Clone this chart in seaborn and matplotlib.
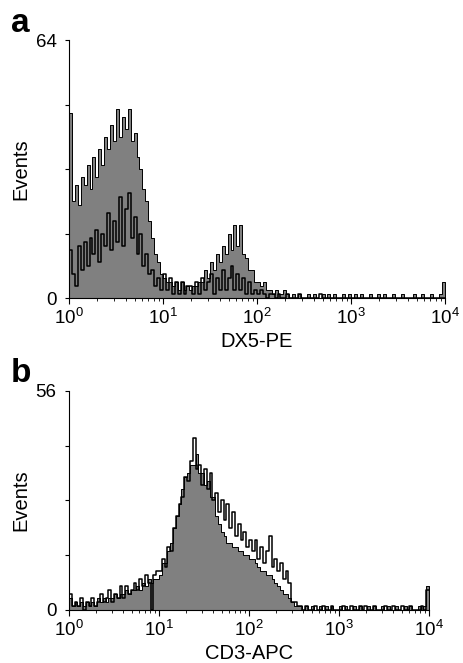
import numpy as np
import pandas as pd
import seaborn as sns
import matplotlib.pyplot as plt

# 128 log channels, 32 per decade, 10^0 .. 10^4
channels = 10 ** ((np.arange(128) + 0.5) / 32)

# panel a: DX5-PE (grey = stained, black line = control)
dx5_stained = [46, 24, 28, 23, 30, 28, 33, 27, 35, 30, 37, 33, 40, 37, 43, 39,
               47, 40, 45, 42, 47, 39, 41, 35, 32, 27, 24, 19, 15, 11, 9, 6,
               5, 4, 4, 3, 4, 2, 4, 2, 3, 2, 3, 3, 4, 4, 7, 5,
               9, 7, 11, 9, 13, 11, 16, 12, 18, 13, 18, 11, 10, 7, 7, 4,
               4, 3, 4, 2, 2, 1, 2, 1, 1, 2, 1, 0, 1, 0, 1, 0,
               0, 1, 0, 1, 0, 0, 1, 0, 1, 0, 1, 0, 0, 1, 0, 1,
               0, 1, 0, 1, 0, 0, 1, 0, 0, 1, 0, 1, 0, 0, 1, 0,
               0, 1, 0, 0, 0, 1, 0, 0, 1, 0, 0, 1, 0, 0, 1, 4]
dx5_control = [12, 6, 3, 13, 7, 14, 8, 15, 11, 17, 9, 16, 13, 21, 12, 19,
               14, 25, 13, 22, 26, 15, 20, 11, 16, 8, 11, 6, 7, 3, 5, 2,
               6, 2, 5, 1, 4, 1, 4, 1, 3, 3, 1, 4, 1, 5, 2, 4,
               6, 1, 5, 2, 7, 2, 5, 8, 2, 6, 2, 5, 1, 4, 1, 2,
               1, 2, 1, 0, 1, 1, 0, 1, 0, 0, 1, 0, 0, 0, 1, 0,
               0, 0, 0, 0, 0, 1, 0, 0, 0, 0, 0, 0, 0, 0, 0, 0,
               0, 0, 0, 0, 0, 0, 0, 0, 0, 0, 0, 0, 0, 0, 0, 0,
               0, 0, 0, 0, 0, 0, 0, 0, 0, 0, 0, 0, 0, 0, 0, 0]

# panel b: CD3-APC
cd3_stained = [3, 1, 2, 1, 2, 1, 2, 1, 2, 1, 3, 2, 3, 2, 3, 3,
               4, 3, 4, 4, 5, 4, 5, 5, 6, 5, 7, 6, 8, 7, 8, 8,
               9, 12, 12, 15, 17, 21, 24, 27, 31, 34, 35, 37, 37, 40, 35, 35,
               32, 33, 29, 29, 24, 22, 20, 19, 17, 17, 16, 16, 15, 15, 14, 14,
               13, 13, 12, 11, 10, 10, 9, 9, 8, 7, 6, 5, 4, 4, 3, 2,
               1, 1, 1, 0, 1, 0, 1, 0, 0, 1, 0, 1, 0, 1, 0, 0,
               1, 0, 1, 0, 0, 1, 0, 1, 0, 0, 1, 0, 1, 0, 0, 1,
               0, 1, 0, 0, 1, 0, 0, 1, 0, 1, 0, 0, 1, 0, 1, 6]
cd3_control = [4, 1, 2, 1, 3, 0, 2, 1, 3, 1, 2, 4, 2, 3, 5, 2,
               4, 3, 6, 3, 6, 4, 5, 7, 5, 8, 6, 9, 7, 0, 9, 10,
               10, 13, 11, 16, 15, 21, 24, 27, 29, 34, 33, 38, 44, 36, 37, 32,
               36, 31, 35, 28, 30, 25, 28, 23, 27, 21, 25, 19, 22, 18, 20, 16,
               18, 15, 18, 13, 16, 12, 15, 19, 11, 13, 10, 12, 8, 10, 7, 2,
               2, 1, 1, 0, 1, 0, 0, 1, 0, 0, 1, 0, 0, 1, 0, 0,
               0, 1, 0, 0, 1, 0, 0, 1, 0, 1, 0, 0, 1, 0, 0, 0,
               1, 0, 0, 1, 0, 0, 1, 0, 0, 1, 0, 0, 0, 1, 0, 5]

sns.set_style("ticks")
plt.rcParams['font.family'] = ['Liberation Sans', 'DejaVu Sans']
plt.rcParams['mathtext.fontset'] = 'custom'
plt.rcParams['mathtext.rm'] = 'Liberation Sans'
plt.rcParams['mathtext.it'] = 'Liberation Sans:italic'
plt.rcParams['mathtext.bf'] = 'Liberation Sans:bold'
plt.rcParams['text.color'] = 'black'
plt.rcParams['axes.labelcolor'] = 'black'
plt.rcParams['xtick.color'] = 'black'
plt.rcParams['ytick.color'] = 'black'

fig = plt.figure(figsize=(4.63, 6.63), dpi=100)
ax1 = fig.add_axes([0.149, 0.5505, 0.812, 0.389])
ax2 = fig.add_axes([0.149, 0.080, 0.7776, 0.3303])


def panel(ax, filled, line, ymax, xlabel):
    df = pd.DataFrame({"channel": channels, "filled": filled, "line": line})
    sns.histplot(data=df, x="channel", weights="filled", log_scale=True,
                 binwidth=1 / 32, binrange=(0, 4), element="step", fill=True,
                 color="#808080", edgecolor="black", linewidth=0.7, alpha=1, ax=ax)
    sns.histplot(data=df, x="channel", weights="line", log_scale=True,
                 binwidth=1 / 32, binrange=(0, 4), element="step", fill=False,
                 color="black", linewidth=1.1, ax=ax)
    ax.set_xlim(1, 1e4)
    ax.set_ylim(0, ymax)
    ax.set_xticks([1, 10, 100, 1000, 10000])
    ax.set_yticks([0, ymax])
    ax.set_yticks([ymax / 4, ymax / 2, 3 * ymax / 4], minor=True)
    ax.tick_params(axis="both", which="major", labelsize=13.5, width=0.8)
    ax.tick_params(axis="x", which="major", length=4, pad=3)
    ax.tick_params(axis="x", which="minor", length=2, width=0.6)
    ax.tick_params(axis="y", which="major", length=3, pad=6)
    ax.tick_params(axis="y", which="minor", length=3, width=0.8)
    ax.set_xlabel(xlabel, fontsize=14.5, labelpad=3)
    ax.set_ylabel("Events", fontsize=14.5, labelpad=4)
    sns.despine(ax=ax)
    for s in ["left", "bottom"]:
        ax.spines[s].set_linewidth(0.8)
        ax.spines[s].set_color("black")


panel(ax1, dx5_stained, dx5_control, 64, "DX5-PE")
panel(ax2, cd3_stained, cd3_control, 56, "CD3-APC")

fig.text(0.024, 0.952, "a", fontsize=24, fontweight="bold")
fig.text(0.024, 0.424, "b", fontsize=24, fontweight="bold")

fig.savefig("out.png", dpi=100)
